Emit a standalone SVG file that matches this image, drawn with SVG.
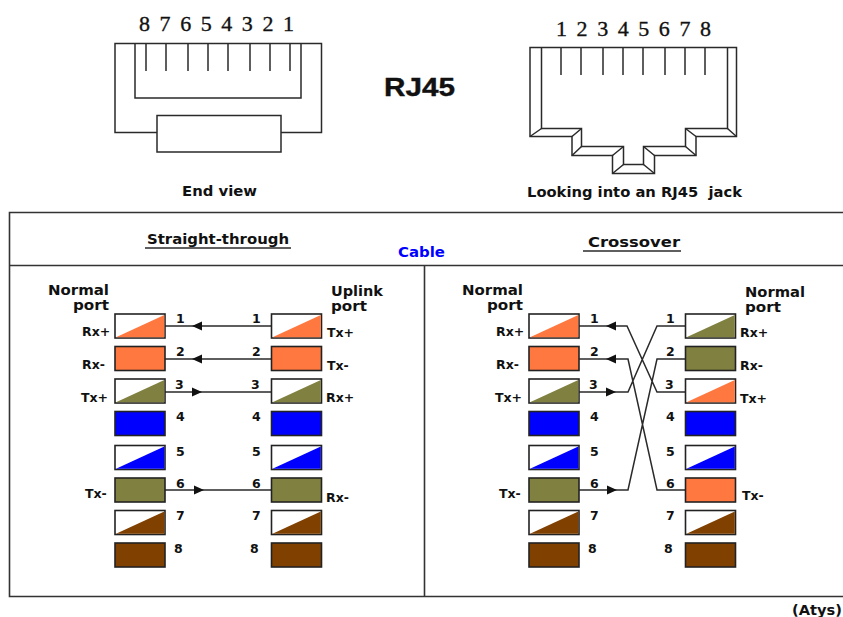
<svg xmlns="http://www.w3.org/2000/svg" width="843" height="617" viewBox="0 0 843 617">
<style>
.ln{fill:none;stroke:#2a2a2a;stroke-width:1.5}
.fr{fill:none;stroke:#333;stroke-width:1.6}
.sw{stroke:#222;stroke-width:1.6}
.t{font-family:"DejaVu Sans",Verdana,sans-serif;font-weight:bold;font-size:13.5px;fill:#111;white-space:pre}
.n{font-family:"DejaVu Sans",Verdana,sans-serif;font-weight:bold;font-size:12.5px;fill:#111}
.d{font-family:"Liberation Serif","Times New Roman",serif;font-size:22px;fill:#111;stroke:#111;stroke-width:.35}
.ah{fill:#111;stroke:none}
</style>
<defs>
<g id="fo"><rect class="sw" width="50" height="24" fill="#ff7840"/></g>
<g id="fg"><rect class="sw" width="50" height="24" fill="#808040"/></g>
<g id="fb"><rect class="sw" width="50" height="24" fill="#0000ff"/></g>
<g id="fn"><rect class="sw" width="50" height="24" fill="#804000"/></g>
<g id="ho"><rect class="sw" width="50" height="24" fill="#fff"/><path d="M1 23.300L49.300 1V23.300Z" fill="#ff7840"/></g>
<g id="hg"><rect class="sw" width="50" height="24" fill="#fff"/><path d="M1 23.300L49.300 1V23.300Z" fill="#808040"/></g>
<g id="hb"><rect class="sw" width="50" height="24" fill="#fff"/><path d="M1 23.300L49.300 1V23.300Z" fill="#0000ff"/></g>
<g id="hn"><rect class="sw" width="50" height="24" fill="#fff"/><path d="M1 23.300L49.300 1V23.300Z" fill="#804000"/></g>
</defs>
<rect width="843" height="617" fill="#fff"/>

<g id="plug">
<path class="ln" d="M157 132.500H115V43.500H321.500V132.500H281M135 43.500V98H301V43.500M157 115.500H281V152H157Z"/>
<path class="ln" d="M146 43.500V71M166 43.500V71M188 43.500V71M208 43.500V71M228 43.500V71M250 43.500V71M270 43.500V71M290 43.500V71"/>
<text class="d" x="139" y="31" textLength="155">8 7 6 5 4 3 2 1</text>
<text class="t" x="182" y="196" textLength="75" lengthAdjust="spacingAndGlyphs">End view</text>
</g>

<g id="title"><text x="384" y="96" font-family="Liberation Sans,Arial,sans-serif" font-weight="bold" font-size="25px" fill="#111" stroke="#111" stroke-width=".4" textLength="71" lengthAdjust="spacingAndGlyphs">RJ45</text></g>

<g id="jack">
<path class="ln" d="M530 47.500V136.500H572V155.500H612.500V173.500H654.500V155.500H696V136.500H736.500V47.500ZM541.500 47.500V128.500H581.500V146.500H623.500V164.500H643.500V146.500H685.500V128.500H727.500V47.500"/>
<path class="ln" d="M530 136.500L541.500 128.500M572 136.500L581.500 128.500M572 155.500L581.500 146.500M612.500 155.500L623.500 146.500M612.500 173.500L623.500 164.500M654.500 173.500L643.500 164.500M654.500 155.500L643.500 146.500M696 155.500L685.500 146.500M696 136.500L685.500 128.500M736.500 136.500L727.500 128.500"/>
<path class="ln" d="M561 47.500V75M581 47.500V75M603 47.500V75M623 47.500V75M643 47.500V75M665 47.500V75M685 47.500V75M705 47.500V75"/>
<text class="d" x="556" y="36" textLength="155">1 2 3 4 5 6 7 8</text>
<text class="t" x="527" y="197" textLength="215" lengthAdjust="spacingAndGlyphs">Looking into an RJ45  jack</text>
</g>

<g id="frame">
<path class="fr" d="M843 212.500H9.500V596.500H843M9.500 265.500H843M424.500 265.500V596.500"/>
</g>
<g id="headings">
<text class="t" x="147" y="244" textLength="142" lengthAdjust="spacingAndGlyphs">Straight-through</text>
<path class="ln" d="M145 248H291"/>
<text class="t" x="588" y="247" textLength="92" lengthAdjust="spacingAndGlyphs">Crossover</text>
<path class="ln" d="M583 251H681"/>
<text class="t" x="398" y="257" style="fill:#0000ff" textLength="47" lengthAdjust="spacingAndGlyphs">Cable</text>
</g>

<g id="connectors">
<path class="ln" d="M165 326H271M165 359H271M165 392H271M165 490H271"/>
<path class="ln" d="M579 326H627L657 392H685M579 359H628L657 490H685M579 392H628L657 326H685M579 490H628L657 359H685"/>
<path class="ah" d="M192 326L202 321.500V330.500ZM192 359L202 354.500V363.500ZM202 392L192 387.500V396.500ZM204 490L194 485.500V494.500ZM606 326L616 321.500V330.500ZM606 359L616 354.500V363.500ZM616 392L606 387.500V396.500ZM617 490L607 485.500V494.500Z"/>
</g>

<g id="straight-left">
<text class="t" x="48" y="295" textLength="61" lengthAdjust="spacingAndGlyphs">Normal</text>
<text class="t" x="73" y="310" textLength="36" lengthAdjust="spacingAndGlyphs">port</text>
<use href="#ho" x="115" y="314"/><use href="#fo" x="115" y="346.500"/><use href="#hg" x="115" y="379"/><use href="#fb" x="115" y="411.500"/>
<use href="#hb" x="115" y="445.500"/><use href="#fg" x="115" y="478"/><use href="#hn" x="115" y="510.500"/><use href="#fn" x="115" y="543"/>
<text class="n" x="82" y="336">Rx+</text><text class="n" x="82" y="369">Rx-</text><text class="n" x="81" y="402">Tx+</text><text class="n" x="85" y="498">Tx-</text>
<text class="n" x="176" y="323">1</text><text class="n" x="176" y="356">2</text><text class="n" x="175" y="389">3</text><text class="n" x="176" y="421">4</text><text class="n" x="176" y="456">5</text><text class="n" x="176" y="488">6</text><text class="n" x="176" y="520">7</text><text class="n" x="174" y="553">8</text>
</g>
<g id="straight-right">
<text class="t" x="331" y="296" textLength="52" lengthAdjust="spacingAndGlyphs">Uplink</text>
<text class="t" x="331" y="311" textLength="36" lengthAdjust="spacingAndGlyphs">port</text>
<use href="#ho" x="271.500" y="314"/><use href="#fo" x="271.500" y="346.500"/><use href="#hg" x="271.500" y="379"/><use href="#fb" x="271.500" y="411.500"/>
<use href="#hb" x="271.500" y="445.500"/><use href="#fg" x="271.500" y="478"/><use href="#hn" x="271.500" y="510.500"/><use href="#fn" x="271.500" y="543"/>
<text class="n" x="327" y="337">Tx+</text><text class="n" x="327" y="370">Tx-</text><text class="n" x="326" y="402">Rx+</text><text class="n" x="326" y="502">Rx-</text>
<text class="n" x="252" y="323">1</text><text class="n" x="252" y="356">2</text><text class="n" x="251" y="389">3</text><text class="n" x="252" y="421">4</text><text class="n" x="252" y="456">5</text><text class="n" x="252" y="488">6</text><text class="n" x="252" y="520">7</text><text class="n" x="250" y="553">8</text>
</g>
<g id="cross-left">
<text class="t" x="462" y="295" textLength="61" lengthAdjust="spacingAndGlyphs">Normal</text>
<text class="t" x="487" y="310" textLength="36" lengthAdjust="spacingAndGlyphs">port</text>
<use href="#ho" x="529" y="314"/><use href="#fo" x="529" y="346.500"/><use href="#hg" x="529" y="379"/><use href="#fb" x="529" y="411.500"/>
<use href="#hb" x="529" y="445.500"/><use href="#fg" x="529" y="478"/><use href="#hn" x="529" y="510.500"/><use href="#fn" x="529" y="543"/>
<text class="n" x="496" y="336">Rx+</text><text class="n" x="496" y="369">Rx-</text><text class="n" x="495" y="402">Tx+</text><text class="n" x="499" y="498">Tx-</text>
<text class="n" x="590" y="323">1</text><text class="n" x="590" y="356">2</text><text class="n" x="589" y="389">3</text><text class="n" x="590" y="421">4</text><text class="n" x="590" y="456">5</text><text class="n" x="590" y="488">6</text><text class="n" x="590" y="520">7</text><text class="n" x="588" y="553">8</text>
</g>
<g id="cross-right">
<text class="t" x="745" y="297" textLength="60" lengthAdjust="spacingAndGlyphs">Normal</text>
<text class="t" x="745" y="312" textLength="36" lengthAdjust="spacingAndGlyphs">port</text>
<use href="#hg" x="685.500" y="314"/><use href="#fg" x="685.500" y="346.500"/><use href="#ho" x="685.500" y="379"/><use href="#fb" x="685.500" y="411.500"/>
<use href="#hb" x="685.500" y="445.500"/><use href="#fo" x="685.500" y="478"/><use href="#hn" x="685.500" y="510.500"/><use href="#fn" x="685.500" y="543"/>
<text class="n" x="740" y="337">Rx+</text><text class="n" x="740" y="370">Rx-</text><text class="n" x="740" y="403">Tx+</text><text class="n" x="742" y="500">Tx-</text>
<text class="n" x="666" y="323">1</text><text class="n" x="666" y="356">2</text><text class="n" x="665" y="389">3</text><text class="n" x="666" y="421">4</text><text class="n" x="666" y="456">5</text><text class="n" x="666" y="488">6</text><text class="n" x="666" y="520">7</text><text class="n" x="664" y="553">8</text>
</g>
<g id="credit"><text class="t" x="792" y="615" textLength="50" lengthAdjust="spacingAndGlyphs">(Atys)</text></g>
</svg>
